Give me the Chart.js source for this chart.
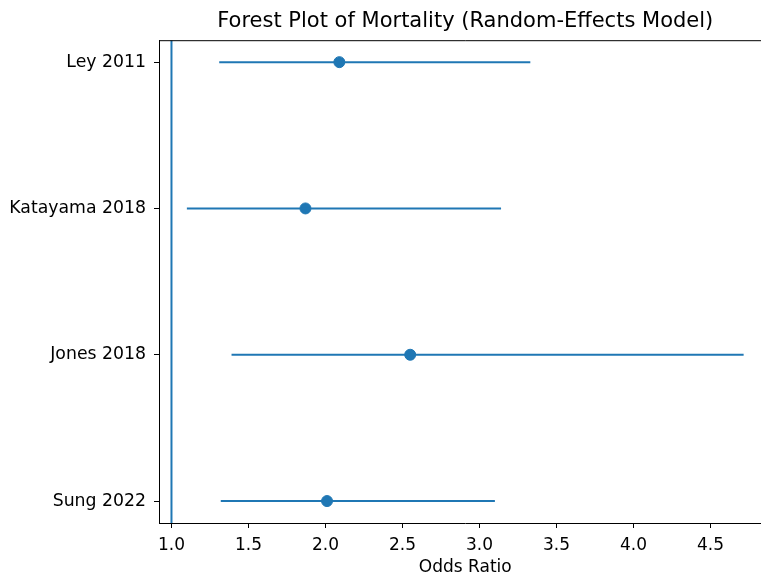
<!DOCTYPE html>
<html>
<head>
<meta charset="utf-8">
<script src="https://cdn.jsdelivr.net/npm/chart.js@4"></script>
<style>
	body { margin: 0; background: #fff; }
	#wrap { width: 761px; height: 573px; overflow: hidden; }
	canvas { display: block; }
</style>
</head>
<body>
<div id="wrap"><canvas id="myChart" width="778" height="578"></canvas></div>
<script>
const studies = ['Ley 2011', 'Katayama 2018', 'Jones 2018', 'Sung 2022'];
const oddsRatio = [2.09, 1.87, 2.55, 2.01];
const lowerCI = [1.31, 1.10, 1.39, 1.32];
const upperCI = [3.33, 3.14, 4.715, 3.10];
const xTicks = [1.0, 1.5, 2.0, 2.5, 3.0, 3.5, 4.0, 4.5];
const nullValue = 1.0;

const blue = '#1f77b4';
const yMin = -0.15, yMax = 3.15;

// first study is drawn at the top
const yPos = i => studies.length - 1 - i;

function createForestPlot() {
	const intervals = studies.map((s, i) => ({
		label: s,
		data: [{ x: lowerCI[i], y: yPos(i) }, { x: upperCI[i], y: yPos(i) }],
		showLine: true,
		borderColor: blue,
		borderWidth: 2,
		pointRadius: 0
	}));

	// matplotlib style box round the axes
	const frame = {
		id: 'frame',
		afterDraw(chart) {
			const { ctx, chartArea } = chart;
			ctx.save();
			ctx.lineWidth = 1;
			ctx.strokeStyle = '#000';
			ctx.beginPath();
			ctx.moveTo(chartArea.left, chartArea.top + 0.5);
			ctx.lineTo(chartArea.right, chartArea.top + 0.5);
			ctx.moveTo(chartArea.right - 0.5, chartArea.top);
			ctx.lineTo(chartArea.right - 0.5, chartArea.bottom);
			ctx.stroke();
			ctx.restore();
		}
	};

	var ctx = document.getElementById('myChart').getContext('2d');
	var myChart = new Chart(ctx, {
		type: 'scatter',
		data: {
			datasets: [
				{
					label: 'null',
					data: [{ x: nullValue, y: yMin }, { x: nullValue, y: yMax }],
					showLine: true,
					borderColor: blue,
					borderWidth: 2,
					pointRadius: 0
				},
				...intervals,
				{
					label: 'Odds Ratio',
					data: oddsRatio.map((v, i) => ({ x: v, y: yPos(i) })),
					backgroundColor: blue,
					borderColor: blue,
					borderWidth: 1,
					pointRadius: 5.5,
					pointHoverRadius: 5.5
				}
			]
		},
		options: {
			responsive: false,
			animation: false,
			devicePixelRatio: 1,
			layout: { padding: { left: 0, right: 2, top: 0, bottom: 0 } },
			plugins: {
				legend: { display: false },
				tooltip: { enabled: false },
				title: {
					display: true,
					fullSize: false,
					text: 'Forest Plot of Mortality (Random-Effects Model)',
					color: '#000',
					font: { family: 'DejaVu Sans', size: 21, weight: 'normal' },
					padding: { top: 9, bottom: 6 }
				}
			},
			scales: {
				x: {
					type: 'linear',
					min: 0.919,
					max: 4.896,
					afterFit: s => { s.height = 55; s.paddingLeft = 0; s.paddingRight = 0; },
					afterBuildTicks: s => { s.ticks = xTicks.map(v => ({ value: v })); },
					grid: { drawOnChartArea: false, drawTicks: true, tickLength: 5, color: '#000' },
					border: { display: true, color: '#000', width: 1 },
					ticks: {
						color: '#000',
						padding: 7,
						maxRotation: 0,
						font: { family: 'DejaVu Sans', size: 17 },
						callback: v => v.toFixed(1)
					},
					title: {
						display: true,
						text: 'Odds Ratio',
						color: '#000',
						font: { family: 'DejaVu Sans', size: 17 },
						padding: { top: 2, bottom: 0 }
					}
				},
				y: {
					type: 'linear',
					min: yMin,
					max: yMax,
					afterFit: s => { s.width = 159; s.paddingTop = 0; s.paddingBottom = 0; },
					afterBuildTicks: s => { s.ticks = studies.map((st, i) => ({ value: yPos(i) })); },
					grid: { drawOnChartArea: false, drawTicks: true, tickLength: 5, color: '#000' },
					border: { display: true, color: '#000', width: 1 },
					ticks: {
						color: '#000',
						padding: 8,
						font: { family: 'DejaVu Sans', size: 17.3 },
						callback: v => studies[studies.length - 1 - v]
					}
				}
			}
		},
		plugins: [frame]
	});
}

createForestPlot();
</script>
</body>
</html>
